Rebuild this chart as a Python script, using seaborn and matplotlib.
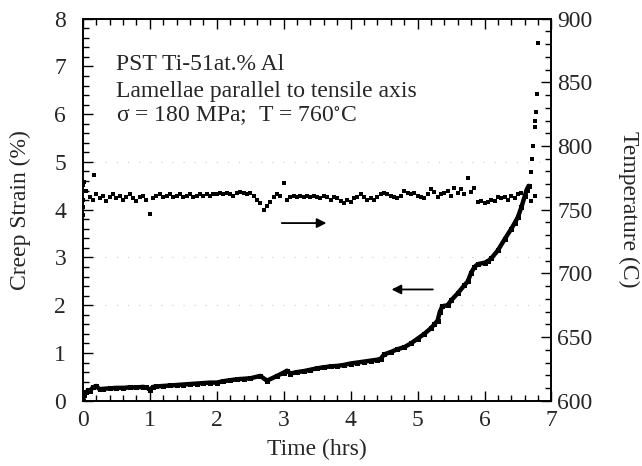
import numpy as np
import pandas as pd
import matplotlib
matplotlib.use("Agg")
import matplotlib.pyplot as plt
from matplotlib.ticker import MultipleLocator
import seaborn as sns

# ---- data ----
strain_time = [0.00, 0.02, 0.05, 0.08, 0.10, 0.15, 0.20, 0.25, 0.30, 0.40, 0.50, 0.60, 0.70,
               0.80, 0.90, 0.95, 1.00, 1.05, 1.10, 1.20, 1.30, 1.40, 1.50, 1.60, 1.70, 1.80,
               1.90, 2.00, 2.10, 2.20, 2.30, 2.40, 2.50, 2.65, 2.75, 2.90, 3.00, 3.05, 3.10,
               3.20, 3.30, 3.40, 3.50, 3.60, 3.70, 3.80, 3.90, 4.00, 4.10, 4.20, 4.30, 4.40,
               4.45, 4.50, 4.60, 4.70, 4.80, 4.90, 5.00, 5.10, 5.20, 5.25, 5.30, 5.33, 5.37,
               5.45, 5.50, 5.60, 5.70, 5.75, 5.80, 5.85, 5.90, 6.00, 6.05, 6.10, 6.20, 6.30,
               6.40, 6.45, 6.50, 6.55, 6.60, 6.63, 6.66]
strain_value = [0.00, 0.12, 0.18, 0.22, 0.20, 0.28, 0.31, 0.24, 0.25, 0.26, 0.27, 0.27, 0.28,
                0.28, 0.29, 0.28, 0.23, 0.29, 0.30, 0.31, 0.32, 0.33, 0.34, 0.35, 0.36, 0.37,
                0.38, 0.38, 0.41, 0.43, 0.45, 0.46, 0.47, 0.52, 0.42, 0.52, 0.59, 0.63, 0.57,
                0.60, 0.62, 0.65, 0.68, 0.70, 0.72, 0.73, 0.75, 0.78, 0.80, 0.82, 0.84, 0.86,
                0.88, 0.97, 1.02, 1.08, 1.12, 1.20, 1.30, 1.40, 1.52, 1.60, 1.68, 1.85, 1.98,
                2.00, 2.10, 2.25, 2.42, 2.50, 2.68, 2.80, 2.86, 2.89, 2.92, 2.98, 3.15, 3.38,
                3.60, 3.72, 3.85, 4.05, 4.28, 4.42, 4.50]

tail_time = [6.70, 6.71, 6.73, 6.75, 6.76, 6.77, 6.78, 6.80]
tail_value = [4.79, 5.06, 5.34, 5.73, 5.86, 6.05, 6.43, 7.48]

temp_time = [round(0.05 * i, 2) for i in range(136)]
temp_value = [752, 765, 760, 758, 762, 759, 761, 757, 760, 762, 759, 761, 758, 760, 762, 759,
              757, 760, 761, 758, 747, 759, 761, 762, 760, 761, 762, 760, 761, 762, 760, 761,
              762, 760, 761, 762, 761, 762, 761, 762, 762, 763, 762, 763, 762, 761, 763, 764,
              763, 762, 763, 761, 758, 755, 750, 753, 756, 760, 762, 761, 771, 758, 760, 761,
              760, 761, 760, 761, 760, 761, 760, 759, 761, 760, 758, 760, 759, 757, 755, 758,
              756, 759, 760, 762, 760, 758, 759, 758, 760, 762, 763, 762, 761, 760, 759, 761,
              765, 763, 762, 763, 761, 760, 759, 762, 766, 764, 760, 762, 763, 765, 761, 767,
              763, 766, 762, 775, 764, 767, 756, 757, 755, 756, 758, 757, 760, 759, 760, 758,
              761, 759, 762, 763, 761, 765, 757, 761]
temp_extra_time = [0.00, 0.00, 0.01, 0.02, 0.17]
temp_extra_value = [746, 769, 758, 772, 777]

x_ticks = [0, 1, 2, 3, 4, 5, 6, 7]
y_ticks = [0, 1, 2, 3, 4, 5, 6, 7, 8]
t_ticks = [600, 650, 700, 750, 800, 850, 900]

# ---- style ----
sns.set_theme(style="ticks")
plt.rcParams["font.family"] = ["Liberation Serif", "DejaVu Serif"]
plt.rcParams["mathtext.fontset"] = "stix"

fig = plt.figure(figsize=(6.42, 4.66), dpi=100)
ax = fig.add_axes([0.129, 0.140, 0.730, 0.820])
ax2 = ax.twinx()

df_s = pd.DataFrame({"t": strain_time, "s": strain_value})
df_tail = pd.DataFrame({"t": tail_time, "s": tail_value})
df_T = pd.DataFrame({"t": temp_time + temp_extra_time, "T": temp_value + temp_extra_value})

sns.lineplot(data=df_s, x="t", y="s", ax=ax, color="black", lw=3.2,
             marker="s", markersize=3.6, markeredgewidth=0, sort=False)
sns.scatterplot(data=df_tail, x="t", y="s", ax=ax, color="black", marker="s",
                s=10, linewidth=0)
sns.scatterplot(data=df_T, x="t", y="T", ax=ax2, color="black", marker="s",
                s=5, linewidth=0)

# faint scanned grid traces
for yv in [2, 3, 5]:
    ax.axhline(yv, color="#cccccc", lw=0.8, ls=(0, (1, 9)), zorder=0)

ax.set_xlim(0, 7)
ax.set_ylim(0, 8)
ax2.set_ylim(600, 900)
ax.set_xticks(x_ticks)
ax.set_yticks(y_ticks)
ax2.set_yticks(t_ticks)
ax.xaxis.set_minor_locator(MultipleLocator(0.2))
ax.yaxis.set_minor_locator(MultipleLocator(0.2))
ax2.yaxis.set_minor_locator(MultipleLocator(10))

fs = 17
ax.tick_params(which="both", direction="in", top=True, right=False, labelsize=fs,
               color="black", width=1.0)
ax.tick_params(which="major", length=7)
ax.tick_params(which="minor", length=4)
ax.tick_params(axis="x", which="major", pad=7)
ax.tick_params(axis="y", which="major", pad=12)
ax2.tick_params(which="both", direction="in", labelsize=fs, color="black", width=1.0)
ax2.tick_params(which="major", length=7, pad=4)
ax2.tick_params(which="minor", length=4)

for a in (ax, ax2):
    for sp in a.spines.values():
        sp.set_color("black")
        sp.set_linewidth(1.2)

ax.set_xlabel("Time (hrs)", fontsize=fs, va="center")
ax.set_ylabel("Creep Strain (%)", fontsize=fs, va="center")
ax2.set_ylabel("Temperature (C)", fontsize=fs, rotation=-90, va="center")
ax.xaxis.set_label_coords(0.5, -0.128)
ax.yaxis.set_label_coords(-0.133, 0.5)
ax2.yaxis.set_label_coords(1.165, 0.5)

ax.text(0.49, 7.05, "PST Ti-51at.% Al", fontsize=fs, va="center", ha="left")
ax.text(0.49, 6.48, "Lamellae parallel to tensile axis", fontsize=fs, va="center", ha="left")
ax.text(0.49, 5.95, "σ = 180 MPa;  T = 760$^{\\circ}$C", fontsize=fs, va="center", ha="left")

ax.annotate("", xy=(3.68, 3.72), xytext=(2.93, 3.72),
            arrowprops=dict(arrowstyle="-|>", color="black", lw=1.3, mutation_scale=14))
ax.annotate("", xy=(4.57, 2.33), xytext=(5.27, 2.33),
            arrowprops=dict(arrowstyle="-|>", color="black", lw=1.3, mutation_scale=14))

fig.savefig("out.png", dpi=100)
